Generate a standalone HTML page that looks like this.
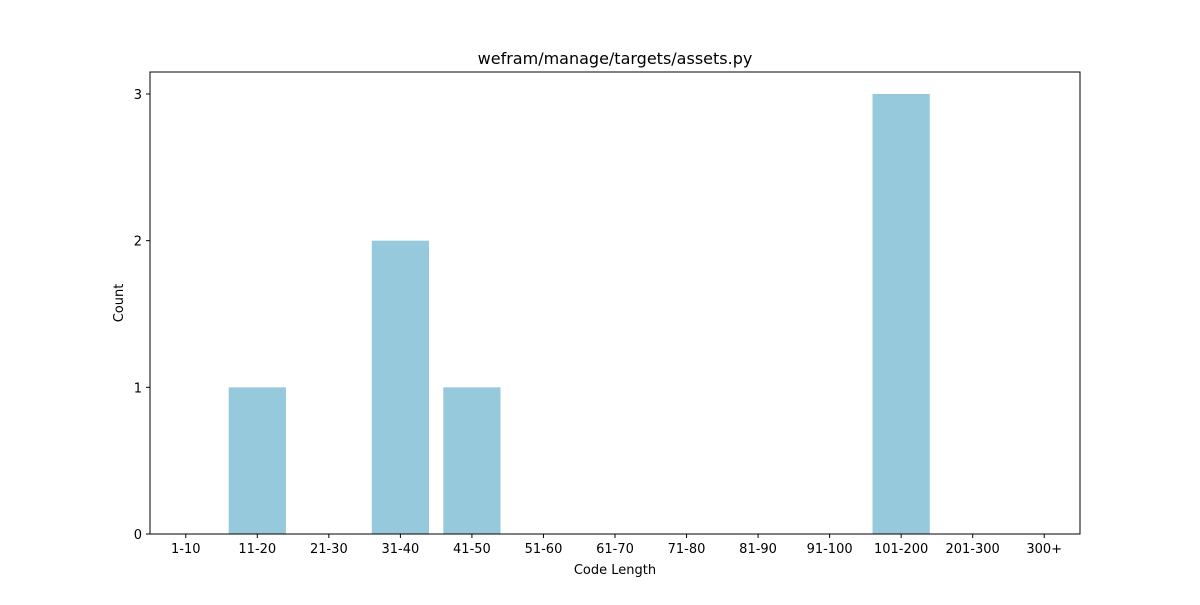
<!DOCTYPE html>
<html><head><meta charset="utf-8"><style>
body{margin:0;background:#fff;}
svg text{font-family:"DejaVu Sans","Liberation Sans",sans-serif;fill:#000;}
</style></head><body>
<svg id="chart" width="1200" height="600" xmlns="http://www.w3.org/2000/svg">
<rect width="1200" height="600" fill="#fff"/>
<g id="bars"></g>
<rect x="150" y="72" width="930" height="462" fill="none" stroke="#000" stroke-width="1"/>
<g id="xt"></g><g id="yt"></g>
<text x="615" y="64" font-size="16" text-anchor="middle">wefram/manage/targets/assets.py</text>
<text x="615" y="574" font-size="13" text-anchor="middle">Code Length</text>
<text x="0" y="0" font-size="13" text-anchor="middle" transform="translate(123,303) rotate(-90)">Count</text>
</svg>
<script>
const categories=["1-10","11-20","21-30","31-40","41-50","51-60","61-70","71-80","81-90","91-100","101-200","201-300","300+"];
const counts=[0,1,0,2,1,0,0,0,0,0,3,0,0];
const yTicks=[0,1,2,3];
const NS="http://www.w3.org/2000/svg";
const L=150,R=1080,T=72,B=534,xmin=-0.5,xmax=12.5,ymax=3.15;
const xs=i=>L+(i-xmin)/(xmax-xmin)*(R-L);
const ys=v=>B-v/ymax*(B-T);
const bw=0.8*(R-L)/(xmax-xmin);
function mk(t,a,p){const e=document.createElementNS(NS,t);for(const k in a)e.setAttribute(k,a[k]);p.appendChild(e);return e;}
const bars=document.getElementById('bars'),xt=document.getElementById('xt'),yt=document.getElementById('yt');
categories.forEach((c,i)=>{
  const r=mk('rect',{x:xs(i)-bw/2,y:ys(counts[i]),width:bw,height:B-ys(counts[i]),fill:'#96c9dc'},bars);
  
  
  mk('line',{x1:xs(i),x2:xs(i),y1:B,y2:B+4,stroke:'#000'},xt);
  const t=mk('text',{x:xs(i),y:B+19,'font-size':13,'text-anchor':'middle'},xt);
  t.textContent=c;
  
  
});
yTicks.forEach(v=>{
  mk('line',{x1:L-4,x2:L,y1:ys(v),y2:ys(v),stroke:'#000'},yt);
  const t=mk('text',{x:L-8,y:ys(v)+5,'font-size':13,'text-anchor':'end'},yt);
  t.textContent=v;
  
  
});
</script>
</body></html>
